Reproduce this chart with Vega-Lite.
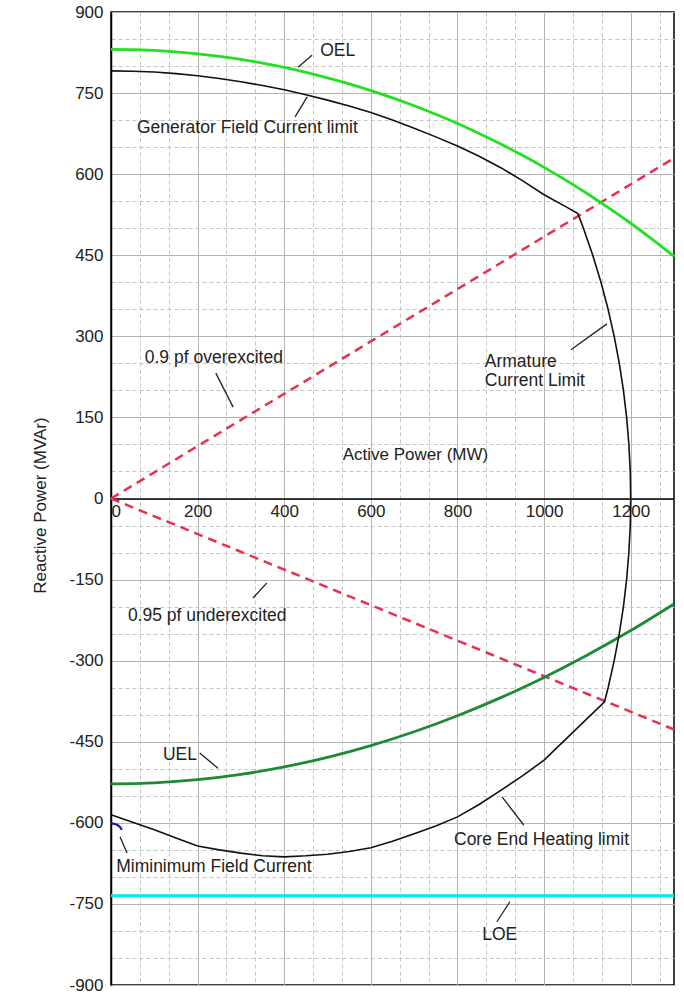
{
  "$schema": "https://vega.github.io/schema/vega-lite/v6.json",
  "width": 563,
  "height": 973,
  "autosize": {"type": "none"},
  "padding": {"left": 111, "top": 12, "right": 10, "bottom": 12},
  "background": "white",
  "config": {
    "view": {"stroke": "#000", "strokeWidth": 1.5},
    "font": "Liberation Sans"
  },
  "datasets": {
    "cap": [
      {"i": 0, "P": 0, "Q": 791}, {"i": 1, "P": 50, "Q": 790.5}, {"i": 2, "P": 100, "Q": 789}, {"i": 3, "P": 150, "Q": 786},
      {"i": 4, "P": 200, "Q": 782}, {"i": 5, "P": 250, "Q": 777}, {"i": 6, "P": 300, "Q": 771}, {"i": 7, "P": 350, "Q": 764},
      {"i": 8, "P": 400, "Q": 756}, {"i": 9, "P": 450, "Q": 747}, {"i": 10, "P": 500, "Q": 737}, {"i": 11, "P": 550, "Q": 726},
      {"i": 12, "P": 600, "Q": 714}, {"i": 13, "P": 650, "Q": 700}, {"i": 14, "P": 700, "Q": 685}, {"i": 15, "P": 750, "Q": 669},
      {"i": 16, "P": 800, "Q": 652}, {"i": 17, "P": 850, "Q": 633}, {"i": 18, "P": 900, "Q": 612}, {"i": 19, "P": 950, "Q": 588},
      {"i": 20, "P": 1000, "Q": 562}, {"i": 21, "P": 1050, "Q": 540}, {"i": 22, "P": 1078, "Q": 527},
      {"i": 23, "P": 1090.9, "Q": 500}, {"i": 24, "P": 1112.4, "Q": 450}, {"i": 25, "P": 1131.4, "Q": 400}, {"i": 26, "P": 1147.8, "Q": 350},
      {"i": 27, "P": 1161.9, "Q": 300}, {"i": 28, "P": 1173.7, "Q": 250}, {"i": 29, "P": 1183.2, "Q": 200}, {"i": 30, "P": 1190.6, "Q": 150},
      {"i": 31, "P": 1195.8, "Q": 100}, {"i": 32, "P": 1199.0, "Q": 50}, {"i": 33, "P": 1200, "Q": 0}, {"i": 34, "P": 1199.0, "Q": -50},
      {"i": 35, "P": 1195.8, "Q": -100}, {"i": 36, "P": 1190.6, "Q": -150}, {"i": 37, "P": 1183.2, "Q": -200}, {"i": 38, "P": 1173.7, "Q": -250},
      {"i": 39, "P": 1161.9, "Q": -300}, {"i": 40, "P": 1147.8, "Q": -350}, {"i": 41, "P": 1139.6, "Q": -376},
      {"i": 42, "P": 1070, "Q": -430}, {"i": 43, "P": 1000, "Q": -484}, {"i": 44, "P": 950, "Q": -513}, {"i": 45, "P": 900, "Q": -540},
      {"i": 46, "P": 850, "Q": -566}, {"i": 47, "P": 800, "Q": -589}, {"i": 48, "P": 750, "Q": -606}, {"i": 49, "P": 700, "Q": -620},
      {"i": 50, "P": 650, "Q": -634}, {"i": 51, "P": 600, "Q": -646}, {"i": 52, "P": 550, "Q": -653}, {"i": 53, "P": 500, "Q": -658},
      {"i": 54, "P": 450, "Q": -661}, {"i": 55, "P": 400, "Q": -663}, {"i": 56, "P": 350, "Q": -661}, {"i": 57, "P": 300, "Q": -656},
      {"i": 58, "P": 250, "Q": -650}, {"i": 59, "P": 200, "Q": -643}, {"i": 60, "P": 150, "Q": -628}, {"i": 61, "P": 100, "Q": -613},
      {"i": 62, "P": 50, "Q": -599}, {"i": 63, "P": 0, "Q": -585}
    ],
    "oel": [
      {"P": 0, "Q": 831}, {"P": 50, "Q": 830.5}, {"P": 100, "Q": 828.9}, {"P": 150, "Q": 826.3}, {"P": 200, "Q": 822.6},
      {"P": 250, "Q": 817.9}, {"P": 300, "Q": 812.2}, {"P": 350, "Q": 805.3}, {"P": 400, "Q": 797.4}, {"P": 450, "Q": 788.4},
      {"P": 500, "Q": 778.3}, {"P": 550, "Q": 767.1}, {"P": 600, "Q": 754.7}, {"P": 650, "Q": 741.2}, {"P": 700, "Q": 726.6},
      {"P": 750, "Q": 710.7}, {"P": 800, "Q": 693.6}, {"P": 850, "Q": 675.3}, {"P": 900, "Q": 655.7}, {"P": 950, "Q": 634.8},
      {"P": 1000, "Q": 612.5}, {"P": 1050, "Q": 588.9}, {"P": 1100, "Q": 563.8}, {"P": 1150, "Q": 537.3}, {"P": 1200, "Q": 509.2},
      {"P": 1250, "Q": 479.4}, {"P": 1300, "Q": 448}
    ],
    "uel": [
      {"P": 0, "Q": -528}, {"P": 100, "Q": -526}, {"P": 200, "Q": -520.1}, {"P": 300, "Q": -510.3}, {"P": 400, "Q": -496.5},
      {"P": 500, "Q": -478.8}, {"P": 600, "Q": -457.1}, {"P": 700, "Q": -431.5}, {"P": 800, "Q": -401.9}, {"P": 900, "Q": -368.4},
      {"P": 1000, "Q": -331}, {"P": 1100, "Q": -289.6}, {"P": 1200, "Q": -244.3}, {"P": 1300, "Q": -195.1}
    ],
    "pfover": [{"P": 0, "Q": 0}, {"P": 1300, "Q": 629.6}],
    "pfunder": [{"P": 0, "Q": 0}, {"P": 1300, "Q": -427.3}],
    "loe": [{"P": 0, "Q": -735}, {"P": 1300, "Q": -735}],
    "minfield": [{"P": 0, "Q": -601}, {"P": 8, "Q": -602}, {"P": 15, "Q": -604}, {"P": 21, "Q": -608}, {"P": 25, "Q": -613}],
    "leaders": [
      {"P": 432, "Q": 798, "P2": 464, "Q2": 820},
      {"P": 425, "Q": 706, "P2": 453, "Q2": 743},
      {"P": 242, "Q": 232, "P2": 282, "Q2": 169},
      {"P": 1062, "Q": 275, "P2": 1145, "Q2": 323},
      {"P": 328, "Q": -184, "P2": 360, "Q2": -156},
      {"P": 205, "Q": -471, "P2": 247, "Q2": -499},
      {"P": 903, "Q": -552, "P2": 953, "Q2": -604},
      {"P": 21, "Q": -626, "P2": 37, "Q2": -656},
      {"P": 921, "Q": -746, "P2": 891, "Q2": -783}
    ],
    "labels": [
      {"P": 483, "Q": 828, "t": "OEL"},
      {"P": 60, "Q": 685, "t": "Generator Field Current limit"},
      {"P": 78, "Q": 260, "t": "0.9 pf overexcited"},
      {"P": 863, "Q": 252, "t": "Armature"},
      {"P": 863, "Q": 217, "t": "Current Limit"},
      {"P": 39, "Q": -217, "t": "0.95 pf underexcited"},
      {"P": 120, "Q": -475, "t": "UEL"},
      {"P": 792, "Q": -632, "t": "Core End Heating limit"},
      {"P": 12, "Q": -682, "t": "Miminimum Field Current"},
      {"P": 857, "Q": -807, "t": "LOE"}
    ]
  },
  "encoding": {
    "x": {
      "field": "P", "type": "quantitative",
      "scale": {"domain": [0, 1300], "nice": false, "zero": false},
      "axis": {
        "orient": "bottom",
        "offset": -486.5,
        "values": [0, 66.667, 133.333, 200, 266.667, 333.333, 400, 466.667, 533.333, 600, 666.667, 733.333, 800, 866.667, 933.333, 1000, 1066.667, 1133.333, 1200, 1266.667],
        "labelExpr": "datum.value % 200 === 0 ? toString(datum.value) : ''",
        "labelOverlap": false,
        "labelFontSize": 17,
        "labelColor": "#222",
        "labelPadding": 5,
        "ticks": false,
        "domainColor": "#000",
        "domainWidth": 1.5,
        "grid": true,
        "gridColor": {"condition": {"test": "datum.value % 200 === 0", "value": "#b4b4b4"}, "value": "#c4c4c4"},
        "gridDash": {"condition": {"test": "datum.value % 200 === 0", "value": []}, "value": [4, 3]},
        "gridWidth": 1,
        "title": "Active Power (MW)",
        "titleFontSize": 17,
        "titleFontWeight": "normal",
        "titleColor": "#222",
        "titleX": 304,
        "titleY": -44,
        "titleAlign": "center",
        "titleBaseline": "middle"
      }
    },
    "y": {
      "field": "Q", "type": "quantitative",
      "scale": {"domain": [-900, 900], "nice": false, "zero": false},
      "axis": {
        "values": [-900, -850, -800, -750, -700, -650, -600, -550, -500, -450, -400, -350, -300, -250, -200, -150, -100, -50, 0, 50, 100, 150, 200, 250, 300, 350, 400, 450, 500, 550, 600, 650, 700, 750, 800, 850, 900],
        "labelExpr": "datum.value % 150 === 0 ? toString(datum.value) : ''",
        "labelOverlap": false,
        "labelFontSize": 17,
        "labelColor": "#222",
        "labelPadding": 8,
        "ticks": false,
        "domainColor": "#000",
        "domainWidth": 1.5,
        "grid": true,
        "gridColor": {"condition": {"test": "datum.value % 150 === 0", "value": "#b4b4b4"}, "value": "#c4c4c4"},
        "gridDash": {"condition": {"test": "datum.value % 150 === 0", "value": []}, "value": [4, 3]},
        "gridWidth": 1,
        "title": "Reactive Power (MVAr)",
        "titleFontSize": 17,
        "titleFontWeight": "normal",
        "titleColor": "#222",
        "titleX": -71,
        "titleY": 493,
        "titleAlign": "center",
        "titleBaseline": "middle",
        "titleAngle": -90
      }
    }
  },
  "layer": [
    {"data": {"name": "loe"}, "mark": {"type": "line", "color": "#00e8f0", "strokeWidth": 3}},
    {"data": {"name": "pfover"}, "mark": {"type": "line", "color": "#e8304e", "strokeWidth": 2.5, "strokeDash": [9, 6]}},
    {"data": {"name": "pfunder"}, "mark": {"type": "line", "color": "#e8304e", "strokeWidth": 2.5, "strokeDash": [9, 6]}},
    {"data": {"name": "uel"}, "mark": {"type": "line", "color": "#1e8a35", "strokeWidth": 2.8, "interpolate": "monotone"}},
    {"data": {"name": "oel"}, "mark": {"type": "line", "color": "#22e022", "strokeWidth": 2.8, "interpolate": "monotone"}},
    {"data": {"name": "cap"}, "mark": {"type": "line", "color": "#111", "strokeWidth": 1.6}, "encoding": {"order": {"field": "i", "type": "quantitative"}}},
    {"data": {"name": "minfield"}, "mark": {"type": "line", "color": "#1818a8", "strokeWidth": 2.2, "interpolate": "monotone"}},
    {"data": {"name": "leaders"}, "mark": {"type": "rule", "color": "#222", "strokeWidth": 1.3}, "encoding": {"x2": {"field": "P2"}, "y2": {"field": "Q2"}}},
    {"data": {"name": "labels"}, "mark": {"type": "text", "align": "left", "baseline": "middle", "fontSize": 17.5, "color": "#222"}, "encoding": {"text": {"field": "t", "type": "nominal"}}}
  ]
}
